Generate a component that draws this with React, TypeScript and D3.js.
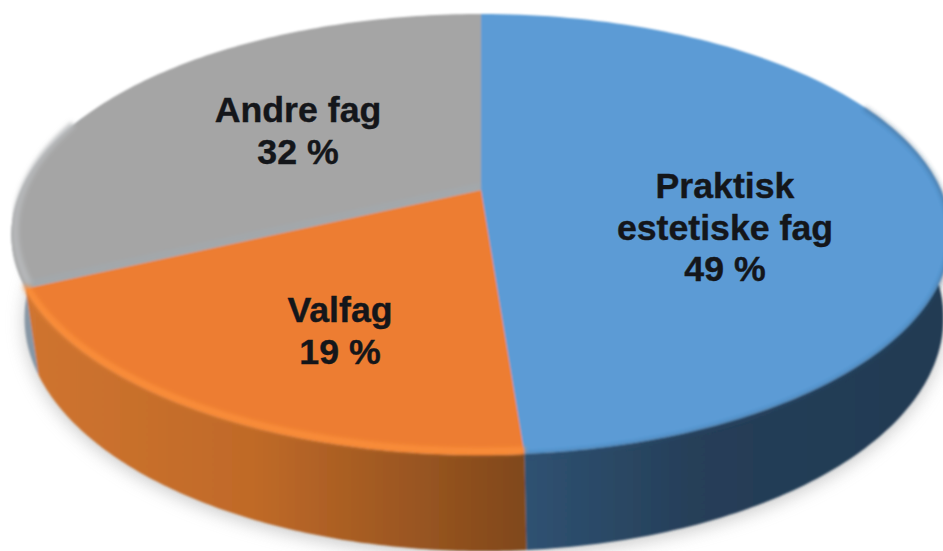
import React from "react";
import * as d3 from "d3";

const categories = ["Praktisk estetiske fag", "Valfag", "Andre fag"];
const values = [48.8, 19.2, 32];
const labelLines = [["Praktisk", "estetiske fag", "49 %"], ["Valfag", "19 %"], ["Andre fag", "32 %"]];
const topColors = ["#5b9bd5", "#ed7d31", "#a5a5a5"];
const rimColors = ["#5b9bd5", "#fb8f3a", "#b8babc"];

const W = 943, H = 551;
const K = -0.2018;
const labelPos = [{ x: 725, y: 198 }, { x: 340, y: 322 }, { x: 298, y: 122 }];
const lineStep = 41.5;

type P = [number, number];
const topRim = (t: number): P => {
  const u = Math.sin(t), v = -Math.cos(t), d = 1 + K * v;
  return [481 + (460 * u) / d, 190 + (211.5 * v) / d];
};
const bottomRim = (t: number): P => {
  const u = Math.sin(t), v = -Math.cos(t), d = 1 + K * v;
  return [484 + (450 * u) / d, 271 + (223.5 * v) / d];
};

const pieGen = d3.pie<number>().sort(null).startAngle(0).endAngle(2 * Math.PI);
const arcs = pieGen(values);
const lineGen = d3.line<P>();

function samples(a: number, b: number, f: (t: number) => P): P[] {
  return d3.range(0, 121).map((i) => f(a + ((b - a) * i) / 120));
}
const closed = (pts: P[]) => (lineGen(pts) as string) + "Z";

export default function App() {
  const center: P = [481, 190];
  const sideRanges = [
    [Math.PI * 0.36, arcs[0].endAngle],
    [arcs[1].startAngle, arcs[1].endAngle],
    [arcs[2].startAngle, Math.PI * 1.62],
  ];
  return (
    <svg width={W} height={H} viewBox={`0 0 ${W} ${H}`} style={{ position: "absolute", left: 0, top: 0, background: "#fff" }}>
      <defs>
        <filter id="soft" x="-5%" y="-5%" width="110%" height="110%"><feGaussianBlur stdDeviation="0.8" /></filter>
        <filter id="shadow" x="-10%" y="-10%" width="120%" height="120%"><feGaussianBlur stdDeviation="9" /></filter>
        <filter id="bevel" x="-5%" y="-5%" width="110%" height="110%"><feGaussianBlur stdDeviation="2" /></filter>
        <linearGradient id="side0" gradientUnits="userSpaceOnUse" x1="524" x2="943" y1="0" y2="0">
          <stop offset="0" stopColor="#2f5272" /><stop offset="0.4" stopColor="#263f59" /><stop offset="1" stopColor="#213a52" />
        </linearGradient>
        <linearGradient id="side1" gradientUnits="userSpaceOnUse" x1="30" x2="524" y1="0" y2="0">
          <stop offset="0" stopColor="#cf7430" /><stop offset="0.45" stopColor="#c06a28" /><stop offset="1" stopColor="#80481c" />
        </linearGradient>
        <linearGradient id="side2" gradientUnits="userSpaceOnUse" x1="12" x2="50" y1="0" y2="0">
          <stop offset="0" stopColor="#8e99a3" /><stop offset="1" stopColor="#7f95a8" />
        </linearGradient>
      </defs>

      <path d={closed(samples(0, 2 * Math.PI, (t) => { const p = bottomRim(t); return [p[0], p[1] + 4]; }))} fill="#9a9a9a" opacity={0.55} filter="url(#shadow)" />

      <g filter="url(#soft)">
        {[2, 0, 1].map((i) => {
          const [a, b] = sideRanges[i];
          const pts = [...samples(a, b, topRim), ...samples(a, b, bottomRim).reverse()];
          return <path key={categories[i]} d={closed(pts)} fill={`url(#side${i})`} />;
        })}
        {arcs.map((arc, i) => (
          <path
            key={categories[i]}
            d={closed([center, ...samples(arc.startAngle, arc.endAngle, topRim)])}
            fill={topColors[i]}
          />
        ))}
        <path d={lineGen(samples(Math.PI * 0.36, arcs[0].endAngle, (t) => { const p = topRim(t); return [p[0], p[1] + 1]; })) as string}
          fill="none" stroke="#2b5073" strokeWidth={3} opacity={0.55} filter="url(#bevel)" />
        {arcs.map((arc, i) => i === 0 ? null : (
          <path
            key={"rim" + i}
            d={lineGen(samples(arc.startAngle, i === 2 ? Math.PI * 1.6 : arc.endAngle, (t) => {
              const p = topRim(t);
              return [p[0] + (i === 2 ? 4 : 0), p[1] - 4];
            })) as string}
            fill="none"
            stroke={rimColors[i]}
            strokeWidth={6}
            filter="url(#bevel)"
          />
        ))}
        <path d={lineGen([center, topRim(arcs[1].endAngle)]) as string} stroke="#9fb0bf" strokeWidth={5} opacity={0.35} filter="url(#bevel)" transform="translate(0,-4)" fill="none" />
      </g>

      {labelLines.map((lines, i) => (
        <text
          key={categories[i]}
          textAnchor="middle"
          fontFamily="'Liberation Sans', Arial, sans-serif"
          fontWeight={700}
          fontSize={35.7}
          fill="#14161a"
          stroke="#14161a"
          strokeWidth={0.4}
        >
          {lines.map((l, j) => (
            <tspan key={l} x={labelPos[i].x} y={labelPos[i].y + j * lineStep}>{l}</tspan>
          ))}
        </text>
      ))}
    </svg>
  );
}
